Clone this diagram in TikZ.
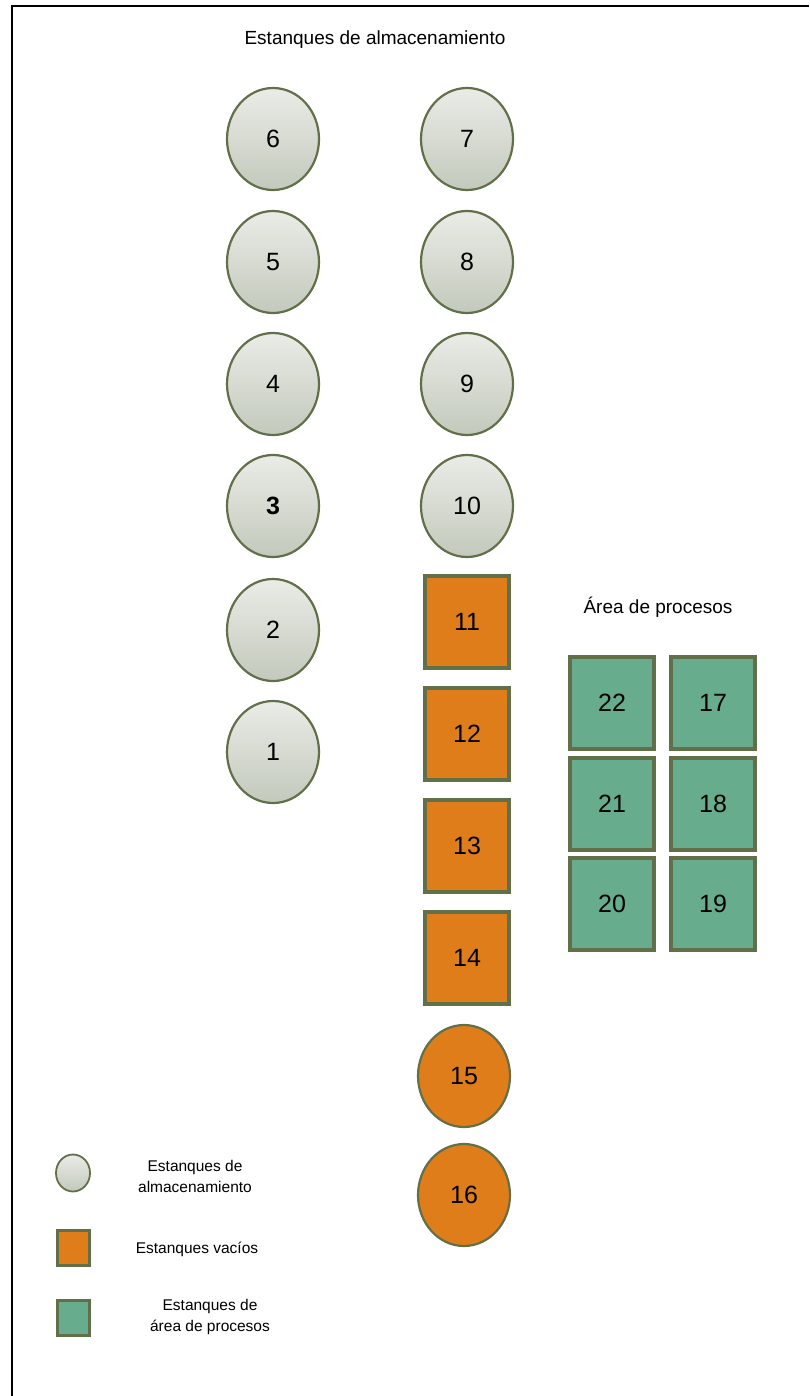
\documentclass[tikz,border=0pt]{standalone}
\usepackage{fontspec}
\setmainfont{Liberation Sans}
\definecolor{tankedge}{HTML}{62704A}
\definecolor{tanktop}{HTML}{EAECE7}
\definecolor{tankbot}{HTML}{C3C9BC}
\definecolor{emptyfill}{HTML}{DF7D1A}
\definecolor{procfill}{HTML}{67AC8C}
\tikzset{
    storetank/.style={ellipse, draw=tankedge, line width=2.2pt, top color=tanktop, bottom color=tankbot,
        minimum width=92pt, minimum height=102pt, inner sep=0pt, font=\fontsize{25}{25}\selectfont},
    emptytank/.style={rectangle, draw=tankedge, line width=3.5pt, fill=emptyfill,
        minimum width=84pt, minimum height=92pt, inner sep=0pt, font=\fontsize{25}{25}\selectfont},
    emptyround/.style={ellipse, draw=tankedge, line width=2.2pt, fill=emptyfill,
        minimum width=92pt, minimum height=102pt, inner sep=0pt, font=\fontsize{25}{25}\selectfont},
    proctank/.style={rectangle, draw=tankedge, line width=3.5pt, fill=procfill,
        minimum width=84pt, minimum height=92pt, inner sep=0pt, font=\fontsize{25}{25}\selectfont},
    legendtext/.style={align=center, font=\fontsize{15.5}{21}\selectfont}
}
\usetikzlibrary{shapes.geometric}
\begin{document}
\begin{tikzpicture}[x=1pt, y=-1pt]
    \useasboundingbox (0,0) rectangle (809,1396);
    \draw[line width=1.6pt] (12,1396) -- (12,6) -- (809,6);
    \node (title) at (375,40) {\fontsize{19}{19}\selectfont Estanques de almacenamiento};
    % storage tanks, left row
    \node[storetank] (t6) at (273,139) {6};
    \node[storetank] (t5) at (273,262) {5};
    \node[storetank] (t4) at (273,384) {4};
    \node[storetank] (t3) at (273,506) {\bfseries 3};
    \node[storetank] (t2) at (273,630) {2};
    \node[storetank] (t1) at (273,752) {1};
    % storage tanks, right row
    \node[storetank] (t7) at (467,139) {7};
    \node[storetank] (t8) at (467,262) {8};
    \node[storetank] (t9) at (467,384) {9};
    \node[storetank] (t10) at (467,506) {10};
    % empty tanks
    \node[emptytank] (t11) at (467,622) {11};
    \node[emptytank] (t12) at (467,734) {12};
    \node[emptytank] (t13) at (467,846) {13};
    \node[emptytank] (t14) at (467,958) {14};
    \node[emptyround] (t15) at (464,1076) {15};
    \node[emptyround] (t16) at (464,1195) {16};
    % process area
    \node (area) at (658,607) {\fontsize{19}{19}\selectfont Área de procesos};
    \node[proctank] (t22) at (612,703) {22};
    \node[proctank] (t21) at (612,804) {21};
    \node[proctank] (t20) at (612,904) {20};
    \node[proctank] (t17) at (713,703) {17};
    \node[proctank] (t18) at (713,804) {18};
    \node[proctank] (t19) at (713,904) {19};
    % legend
    \node[storetank, minimum width=34pt, minimum height=37pt, line width=1.8pt] (keystore) at (73,1173) {};
    \node[emptytank, minimum width=32pt, minimum height=35pt, line width=3pt] (keyempty) at (73,1248) {};
    \node[proctank, minimum width=32pt, minimum height=35pt, line width=3pt] (keyproc) at (73,1318) {};
    \node[legendtext] (lstore) at (195,1176) {Estanques de\\almacenamiento};
    \node[legendtext] (lempty) at (197,1249) {Estanques vacíos};
    \node[legendtext] (lproc) at (210,1317) {Estanques de\\área de procesos};
\end{tikzpicture}
\end{document}
